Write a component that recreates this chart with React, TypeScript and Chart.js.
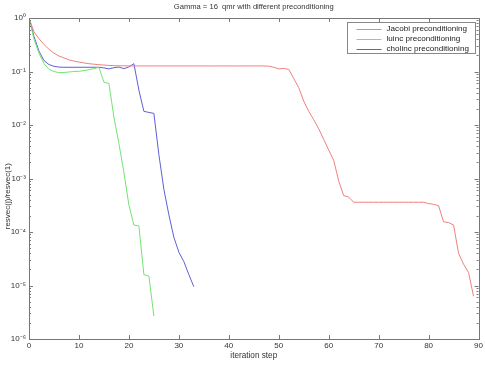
import React, { useEffect, useRef } from 'react';
import { Chart, registerables } from 'chart.js';

Chart.register(...registerables);

const TITLE = 'Gamma = 16  qmr with different preconditioning';
const X_LABEL = 'iteration step';
const Y_LABEL = 'resvec(j)/resvec(1)';
const SERIES_NAMES = ['Jacobi preconditioning', 'luinc preconditioning', 'cholinc preconditioning'];
const SERIES_COLORS = ['#f07f7f', '#72e472', '#5f5fd6'];
const X_TICKS = [0, 10, 20, 30, 40, 50, 60, 70, 80, 90];
const Y_TICK_VALUES = [1e-6, 1e-5, 1e-4, 1e-3, 1e-2, 1e-1, 1];
const Y_TICK_LABELS = ['10⁻⁶', '10⁻⁵', '10⁻⁴', '10⁻³', '10⁻²', '10⁻¹', '10⁰'];

const jacobi = [
  1, 0.55, 0.41, 0.32, 0.26, 0.22, 0.195, 0.18, 0.165, 0.157,
  0.15, 0.145, 0.14, 0.137, 0.134, 0.132, 0.13, 0.129, 0.128, 0.128,
  0.127, 0.127, 0.127, 0.127, 0.127, 0.127, 0.127, 0.127, 0.127, 0.127,
  0.127, 0.127, 0.127, 0.127, 0.127, 0.127, 0.127, 0.127, 0.127, 0.127,
  0.127, 0.127, 0.127, 0.127, 0.127, 0.127, 0.127, 0.127, 0.126, 0.12,
  0.112, 0.114, 0.11, 0.074, 0.05, 0.028, 0.018, 0.0126, 0.0085, 0.0054,
  0.0034, 0.0022, 0.0009, 0.00048, 0.00045, 0.00036, 0.00036, 0.00036, 0.00036, 0.00036,
  0.00036, 0.00036, 0.00036, 0.00036, 0.00036, 0.00036, 0.00036, 0.00036, 0.00036, 0.00036,
  0.00034, 0.00033, 0.00031, 0.000155, 0.00015, 0.000135, 0.00004, 0.000025, 0.0000175, 0.0000063,
];

const luinc = [
  1, 0.4, 0.22, 0.14, 0.11, 0.1, 0.095, 0.096, 0.098, 0.1,
  0.101, 0.104, 0.108, 0.113, 0.12, 0.063, 0.06, 0.014, 0.0045, 0.0013,
  0.00032, 0.000135, 0.00013, 0.000016, 0.000015, 0.0000027,
];

const cholinc = [
  1, 0.45, 0.24, 0.16, 0.135, 0.125, 0.121, 0.12, 0.12, 0.12,
  0.12, 0.12, 0.12, 0.12, 0.12, 0.117, 0.112, 0.118, 0.121, 0.113,
  0.122, 0.14, 0.045, 0.018, 0.0172, 0.0165, 0.0028, 0.00063, 0.00021, 0.00008,
  0.000042, 0.000028, 0.000016, 0.0000095,
];

const SERIES = [jacobi, luinc, cholinc];

const FONT = '"Liberation Sans", Arial, sans-serif';
const TEXT_COLOR = '#333333';
const AXIS_COLOR = '#777777';

const framePlugin = {
  id: 'matlabFrame',
  afterDraw(chart: any) {
    const { ctx, chartArea } = chart;
    const { left, right, top, bottom } = chartArea;
    const xs = chart.scales.x;
    const ys = chart.scales.y;
    ctx.save();
    ctx.strokeStyle = AXIS_COLOR;
    ctx.lineWidth = 1;
    ctx.strokeRect(Math.round(left) + 0.5, Math.round(top) + 0.5, Math.round(right - left), Math.round(bottom - top));
    ctx.beginPath();
    X_TICKS.forEach((v) => {
      const px = Math.round(xs.getPixelForValue(v)) + 0.5;
      ctx.moveTo(px, bottom);
      ctx.lineTo(px, bottom - 4);
      ctx.moveTo(px, top);
      ctx.lineTo(px, top + 4);
    });
    Y_TICK_VALUES.forEach((v, i) => {
      const py = Math.round(ys.getPixelForValue(v)) + 0.5;
      ctx.moveTo(left, py);
      ctx.lineTo(left + 4, py);
      ctx.moveTo(right, py);
      ctx.lineTo(right - 4, py);
      if (i < Y_TICK_VALUES.length - 1) {
        for (let m = 2; m <= 9; m++) {
          const pm = Math.round(ys.getPixelForValue(v * m)) + 0.5;
          ctx.moveTo(left, pm);
          ctx.lineTo(left + 2, pm);
          ctx.moveTo(right, pm);
          ctx.lineTo(right - 2, pm);
        }
      }
    });
    ctx.stroke();

    ctx.fillStyle = TEXT_COLOR;
    ctx.font = '8px ' + FONT;
    ctx.textAlign = 'center';
    ctx.textBaseline = 'middle';
    ctx.save();
    ctx.translate(8, top + (bottom - top) * 0.555);
    ctx.rotate(-Math.PI / 2);
    ctx.fillText(Y_LABEL, 0, 0);
    ctx.restore();

    const bx = right - 132;
    const by = top + 4;
    const bw = 128;
    const bh = 31;
    ctx.fillStyle = '#ffffff';
    ctx.fillRect(bx, by, bw, bh);
    ctx.strokeStyle = '#888888';
    ctx.strokeRect(Math.round(bx) + 0.5, Math.round(by) + 0.5, bw, bh);
    ctx.font = '8.1px ' + FONT;
    ctx.textAlign = 'left';
    chart.data.datasets.forEach((ds: any, i: number) => {
      const ry = by + 6.5 + i * 10;
      ctx.strokeStyle = ds.borderColor;
      ctx.beginPath();
      ctx.moveTo(bx + 10, Math.round(ry) + 0.5);
      ctx.lineTo(bx + 35, Math.round(ry) + 0.5);
      ctx.stroke();
      ctx.fillStyle = '#222222';
      ctx.fillText(ds.label, bx + 40, ry + 0.5);
    });
    ctx.restore();
  },
};

export default function App() {
  const ref = useRef<HTMLCanvasElement | null>(null);
  useEffect(() => {
    if (!ref.current) return;
    const datasets = SERIES.map((arr, i) => ({
      label: SERIES_NAMES[i],
      data: arr.map((v, j) => ({ x: j, y: v })),
      borderColor: SERIES_COLORS[i],
      backgroundColor: SERIES_COLORS[i],
      borderWidth: 1,
      pointRadius: 0,
      tension: 0,
      fill: false,
    }));
    const chart = new Chart(ref.current, {
      type: 'line',
      data: { datasets },
      plugins: [framePlugin],
      options: {
        responsive: false,
        animation: false,
        layout: { padding: { left: 0, right: 5, top: 0, bottom: 0 } },
        plugins: {
          legend: { display: false },
          tooltip: { enabled: false },
          title: {
            display: true,
            fullSize: false,
            text: TITLE,
            color: TEXT_COLOR,
            font: { family: FONT, size: 7.6, weight: 'normal' },
            padding: { top: 2, bottom: 6.9 },
          },
        },
        scales: {
          x: {
            type: 'linear',
            min: 0,
            max: 90,
            afterBuildTicks: (scale: any) => {
              scale.ticks = X_TICKS.map((v) => ({ value: v }));
            },
            afterFit: (scale: any) => {
              scale.height = 27;
            },
            grid: { display: false, drawTicks: false },
            border: { display: false },
            ticks: {
              color: TEXT_COLOR,
              font: { family: FONT, size: 8 },
              padding: 2,
              maxRotation: 0,
              autoSkip: false,
            },
            title: {
              display: true,
              text: X_LABEL,
              color: TEXT_COLOR,
              font: { family: FONT, size: 8.2 },
              padding: { top: 0, bottom: 5 },
            },
          },
          y: {
            type: 'logarithmic',
            min: 1e-6,
            max: 1,
            afterBuildTicks: (scale: any) => {
              scale.ticks = Y_TICK_VALUES.map((v) => ({ value: v }));
            },
            afterFit: (scale: any) => {
              scale.width = 29;
            },
            grid: { display: false, drawTicks: false },
            border: { display: false },
            ticks: {
              color: TEXT_COLOR,
              font: { family: FONT, size: 8 },
              padding: 3,
              autoSkip: false,
              callback: (value: any) => {
                const idx = Y_TICK_VALUES.findIndex((v) => Math.abs(Math.log10(v) - Math.log10(Number(value))) < 1e-6);
                return idx >= 0 ? Y_TICK_LABELS[idx] : '';
              },
            },
          },
        },
      },
    });
    return () => chart.destroy();
  }, []);
  return (
    <div style={{ position: 'absolute', left: 0, top: 0, width: 485, height: 366, background: '#ffffff' }}>
      <canvas ref={ref} width={485} height={366} style={{ display: 'block' }} />
    </div>
  );
}
